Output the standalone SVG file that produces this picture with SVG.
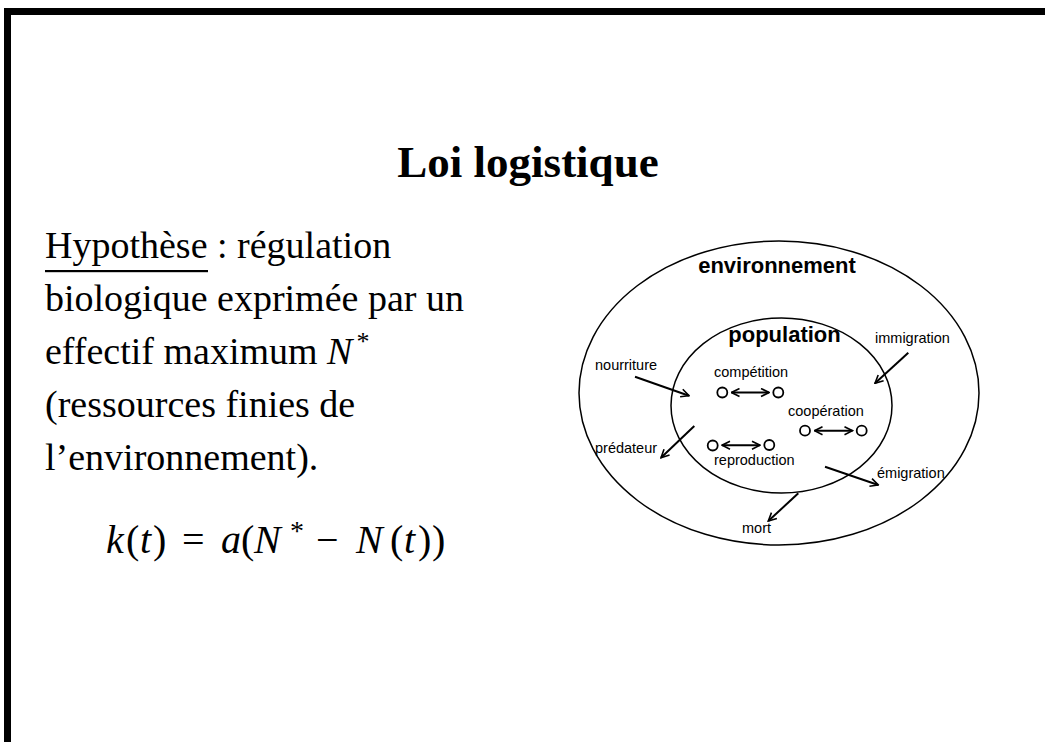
<svg xmlns="http://www.w3.org/2000/svg" width="1045" height="742" viewBox="0 0 1045 742">
  <style>
    .serif { font-family: "Liberation Serif", "Times New Roman", serif; fill: #000; }
    .title { font-size: 45px; font-weight: bold; }
    .body { font-size: 38px; }
    .math { font-size: 40px; }
    .it { font-style: italic; }
    .sans { font-family: "Liberation Sans", Arial, sans-serif; fill: #000; }
    .big { font-size: 22px; font-weight: bold; }
    .lbl { font-size: 14.5px; }
    .ring { fill: none; stroke: #000; stroke-width: 1.5; }
    .dot { fill: #fff; stroke: #000; stroke-width: 1.8; }
    .arrow { fill: none; stroke: #000; stroke-width: 2; marker-end: url(#head); }
    .link { fill: none; stroke: #000; stroke-width: 2; marker-start: url(#headStart); marker-end: url(#head); }
  </style>
  <defs>
    <marker id="head" viewBox="0 0 10 10" refX="9" refY="5" markerWidth="5" markerHeight="5" orient="auto" markerUnits="strokeWidth">
      <path d="M1,1 L9,5 L1,9" fill="none" stroke="#000" stroke-width="1.6"/>
    </marker>
    <marker id="headStart" viewBox="0 0 10 10" refX="1" refY="5" markerWidth="5" markerHeight="5" orient="auto" markerUnits="strokeWidth">
      <path d="M9,1 L1,5 L9,9" fill="none" stroke="#000" stroke-width="1.6"/>
    </marker>
  </defs>

  <rect width="1045" height="742" fill="#fff"/>
  <!-- slide frame -->
  <rect x="4" y="8" width="1041" height="7" fill="#000"/>
  <rect x="4" y="8" width="7" height="734" fill="#000"/>

  <text class="serif title" x="528" y="177" text-anchor="middle">Loi logistique</text>

  <!-- left-hand text -->
  <g id="hypothesis">
    <text class="serif body" x="45" y="258">Hypothèse : régulation</text>
    <rect x="45" y="270" width="163" height="2.2" fill="#000"/>
    <text class="serif body" x="45" y="311">biologique exprimée par un</text>
    <text class="serif body" x="45" y="364">effectif maximum <tspan class="it">N</tspan><tspan font-size="26" dy="-14" dx="4">*</tspan></text>
    <text class="serif body" x="45" y="417">(ressources finies de</text>
    <text class="serif body" x="45" y="470">l’environnement).</text>
  </g>

  <!-- formula k(t) = a(N* − N(t)) -->
  <g id="formula">
    <text class="serif math" y="553"><tspan class="it" x="106">k</tspan><tspan x="126">(</tspan><tspan class="it" x="140">t</tspan><tspan x="153">)</tspan><tspan x="182">=</tspan><tspan class="it" x="221">a</tspan><tspan x="241">(</tspan><tspan class="it" x="254">N</tspan><tspan x="290" font-size="28" dy="-13">*</tspan><tspan x="316" dy="13">−</tspan><tspan class="it" x="356">N</tspan><tspan x="390">(</tspan><tspan class="it" x="404">t</tspan><tspan x="418">)</tspan><tspan x="432">)</tspan></text>
  </g>

  <!-- population / environment diagram -->
  <g id="environnement">
    <ellipse class="ring" cx="779" cy="393" rx="200" ry="152"/>
    <text class="sans big" x="777" y="273" text-anchor="middle">environnement</text>
  </g>
  <g id="population">
    <ellipse class="ring" cx="781.5" cy="405.5" rx="110.5" ry="87.5"/>
    <text class="sans big" x="784.5" y="342" text-anchor="middle">population</text>
  </g>

  <g id="competition">
    <text class="sans lbl" x="714" y="377">compétition</text>
    <circle class="dot" cx="722.3" cy="392.5" r="5"/>
    <circle class="dot" cx="778.3" cy="392.5" r="5"/>
  </g>
  <g id="cooperation">
    <text class="sans lbl" x="788" y="416">coopération</text>
    <circle class="dot" cx="805" cy="430.7" r="5"/>
    <circle class="dot" cx="861.7" cy="430.7" r="5"/>
  </g>
  <g id="reproduction">
    <text class="sans lbl" x="714" y="465">reproduction</text>
    <circle class="dot" cx="712.7" cy="445.5" r="5"/>
    <circle class="dot" cx="769.3" cy="445" r="5"/>
  </g>

  <g id="nourriture"><text class="sans lbl" x="595" y="370">nourriture</text></g>
  <g id="immigration"><text class="sans lbl" x="875" y="343">immigration</text></g>
  <g id="predateur"><text class="sans lbl" x="595" y="453">prédateur</text></g>
  <g id="emigration"><text class="sans lbl" x="877" y="478">émigration</text></g>
  <g id="mort"><text class="sans lbl" x="742" y="533">mort</text></g>

  <g id="connectors">
    <line class="link" x1="731.5" y1="392.5" x2="769" y2="392.5"/>
    <line class="link" x1="814.5" y1="430.7" x2="852.5" y2="430.7"/>
    <line class="link" x1="722" y1="445.2" x2="760" y2="445.2"/>
    <line class="arrow" x1="635" y1="376.7" x2="689" y2="395.7"/>
    <line class="arrow" x1="908.3" y1="352.7" x2="875" y2="383.3"/>
    <line class="arrow" x1="694.3" y1="426" x2="661" y2="457.7"/>
    <line class="arrow" x1="825" y1="466.7" x2="878.3" y2="485"/>
    <line class="arrow" x1="798.3" y1="493.3" x2="768.3" y2="521"/>
  </g>
</svg>
